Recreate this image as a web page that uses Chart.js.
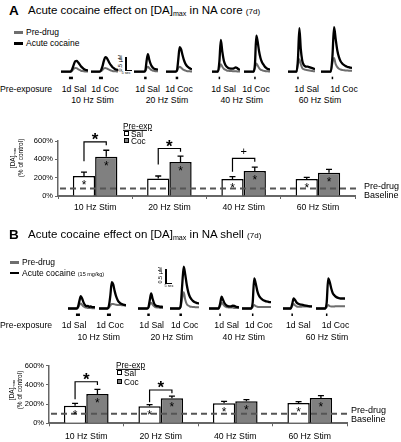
<!DOCTYPE html>
<html><head><meta charset="utf-8">
<script src="https://cdn.jsdelivr.net/npm/chart.js@4.4.1/dist/chart.umd.min.js"></script>
<style>
body{margin:0;width:401px;height:442px;position:relative;background:#fff;font-family:"Liberation Sans",Arial,sans-serif;overflow:hidden}
.t{position:absolute;white-space:nowrap;color:#000;line-height:1}
.c{transform:translate(-50%,-50%)}
.l{transform:translate(0,-50%)}
.r{transform:translate(-50%,-50%) rotate(-90deg)}
.sub{font-size:0.62em;position:relative;top:0.35em}
canvas{position:absolute}
.ln{position:absolute;height:2.5px}
.box{position:absolute;width:5px;height:5px;border:1px solid #000;box-sizing:border-box}
</style></head><body>
<script>
// ---------------- DATA ----------------
const stimLabels = ['10 Hz Stim', '20 Hz Stim', '40 Hz Stim', '60 Hz Stim'];
const preExposure = ['1d Sal', '1d Coc'];
const yTicks = [0, 200, 400, 600];
const traceTime = [0,1,2,3,4,5,6,7,8,9,10,11,12,13,14,15,16,17,18,19];

// Bar values (% of control), panel A (NA core)
const coreSal = [218, 192, 186, 186];
const coreSalErr = [43, 26, 25, 17];
const coreCoc = [427, 370, 272, 254];
const coreCocErr = [72, 65, 44, 36];
const coreBaseline = 82;
const coreSalStar = [true, false, true, true];
const coreCocStar = [true, true, true, true];
const coreSig = ['*', '*', '+', ''];
const coreBracketTop = [590, 518, 410, null];
const coreBracketLeft = [380, 345, 264, null];
const coreBracketRight = [554, 482, 373, null];

// Bar values (% of control), panel B (NA shell)
const shellSal = [183, 177, 208, 211];
const shellSalErr = [25, 17, 21, 14];
const shellCoc = [305, 260, 229, 264];
const shellCocErr = [49, 24, 17, 24];
const shellBaseline = 100;
const shellSalStar = [true, true, true, true];
const shellCocStar = [true, true, true, true];
const shellSig = ['*', '*', '', ''];
const shellBracketTop = [433, 347, null, null];
const shellBracketLeft = [250, 219, null, null];
const shellBracketRight = [399, 312, null, null];

// Traces (µM above baseline); order: 10Sal,10Coc,20Sal,20Coc,40Sal,40Coc,60Sal,60Coc
const coreTraceCocaine = [
  [0,0,0,0,0,0,0,0.02,0.12,0.28,0.42,0.43,0.38,0.30,0.22,0.16,0.11,0.08,0.06,0.05],
  [0,0,0,0,0,0,0,0.05,0.20,0.42,0.58,0.56,0.46,0.35,0.26,0.19,0.14,0.10,0.08,0.07],
  [0,0,0,0,0,0,0,0,0,0.05,0.45,0.70,0.50,0.33,0.22,0.16,0.12,0.10,0.09,0.08],
  [0,0,0,0,0,0,0,0,0.05,0.50,0.98,0.90,0.68,0.48,0.34,0.25,0.19,0.15,0.12,0.10],
  [0,0,0,0,0,0.40,1.27,0.80,0.45,0.28,0.20,0.15,0.13,0.12,0.12,0.14,0.17,0.15,0.10,0.08],
  [0,0,0,0,0,0,0,0,0.30,1.44,1.20,0.82,0.56,0.40,0.30,0.22,0.16,0.12,0.10,0.08],
  [0,0,0,0,0,0,0,0.50,1.74,0.90,0.45,0.28,0.22,0.20,0.20,0.18,0.16,0.14,0.12,0.10],
  [0,0,0,0,0,0,0,0.60,1.78,1.30,0.85,0.58,0.42,0.33,0.27,0.23,0.20,0.18,0.16,0.15]
];
const coreTracePre = [
  [0,0,0,0,0,0,0,0,0.05,0.12,0.15,0.14,0.10,0.07,0.04,0.03,0.02,0.01,0.01,0],
  [0,0,0,0,0,0,0,0.02,0.07,0.13,0.15,0.13,0.10,0.07,0.05,0.03,0.02,0.02,0.01,0.01],
  [0,0,0,0,0,0,0,0,0,0.03,0.15,0.20,0.15,0.10,0.06,0.04,0.03,0.02,0.02,0.01],
  [0,0,0,0,0,0,0,0,0.03,0.15,0.20,0.16,0.11,0.07,0.05,0.03,0.02,0.02,0.01,0.01],
  [0,0,0,0,0,0.15,0.30,0.20,0.12,0.08,0.05,0.04,0.03,0.03,0.02,0.02,0.02,0.01,0.01,0.01],
  [0,0,0,0,0,0,0,0,0.15,0.33,0.25,0.15,0.09,0.06,0.04,0.03,0.02,0.02,0.01,0.01],
  [0,0,0,0,0,0,0,0.30,0.50,0.30,0.15,0.10,0.08,0.07,0.06,0.05,0.04,0.03,0.02,0.02],
  [0,0,0,0,0,0,0,0.35,0.55,0.30,0.18,0.12,0.09,0.07,0.06,0.05,0.05,0.04,0.04,0.04]
];
const coreStimOnset = [7, 7, 9, 8, 5, 8, 7, 7];

const shellTraceCocaine = [
  [0,0,0,0,0,0,0,0.05,0.25,0.42,0.33,0.20,0.12,0.08,0.09,0.06,0.07,0.05,0.05,0.04],
  [0,0,0,0,0,0,0,0.10,0.45,0.90,0.82,0.60,0.42,0.30,0.22,0.18,0.15,0.13,0.12,0.11],
  [0,0,0,0,0,0,0,0,0.05,0.30,0.51,0.35,0.20,0.12,0.09,0.08,0.07,0.06,0.06,0.05],
  [0,0,0,0,0,0,0,0.10,0.80,1.42,1.15,0.80,0.55,0.40,0.32,0.26,0.22,0.20,0.18,0.17],
  [0,0,0,0,0,0,0,0.15,0.40,0.28,0.17,0.11,0.08,0.07,0.07,0.10,0.09,0.06,0.05,0.04],
  [0,0,0,0,0,0,0,0.20,1.02,0.85,0.60,0.45,0.37,0.32,0.28,0.26,0.24,0.23,0.22,0.22],
  [0,0,0,0,0,0,0.15,0.34,0.28,0.20,0.16,0.14,0.13,0.12,0.11,0.10,0.09,0.08,0.07,0.07],
  [0,0,0,0,0,0,0,0.20,1.02,0.90,0.68,0.52,0.45,0.40,0.37,0.35,0.34,0.34,0.34,0.34]
];
const shellTracePre = [
  [0,0,0,0,0,0,0,0.03,0.12,0.17,0.12,0.07,0.04,0.03,0.02,0.02,0.02,0.01,0.01,0.01],
  [0,0,0,0,0,0,0,0.03,0.10,0.15,0.15,0.14,0.13,0.12,0.12,0.12,0.11,0.11,0.10,0.10],
  [0,0,0,0,0,0,0,0,0.03,0.14,0.20,0.14,0.08,0.05,0.04,0.03,0.03,0.02,0.02,0.02],
  [0,0,0,0,0,0,0,0.05,0.35,0.55,0.30,0.15,0.10,0.07,0.06,0.05,0.05,0.04,0.04,0.04],
  [0,0,0,0,0,0,0,0.08,0.20,0.14,0.08,0.05,0.04,0.03,0.03,0.03,0.02,0.02,0.02,0.02],
  [0,0,0,0,0,0,0,0.05,0.12,0.08,0.06,0.05,0.05,0.05,0.05,0.05,0.05,0.05,0.05,0.05],
  [0,0,0,0,0,0,0.08,0.15,0.10,0.07,0.06,0.06,0.06,0.07,0.07,0.07,0.07,0.07,0.07,0.07],
  [0,0,0,0,0,0,0,0.05,0.12,0.08,0.07,0.07,0.07,0.08,0.08,0.08,0.08,0.08,0.08,0.08]
];
const shellStimOnset = [7, 7, 8, 7, 7, 7, 6, 7];

// ---------------- LAYOUT ----------------
const coreTraceX = [[61,88],[91,118],[134,158],[166,192],[212,240],[244,270],[288,315],[321,352]];
const shellTraceX = [[68,95],[99,126],[138,163],[170,199],[209,239],[242,271],[283,312],[316,345]];
const stimMarkW = [4,4,2.5,2.5,1.5,1.5,1.5,1.5];

Chart.defaults.font.family = '"Liberation Sans", Arial, sans-serif';
Chart.defaults.color = '#000';

function makeCanvas(left, top, w, h){
  const c = document.createElement('canvas');
  c.width = w; c.height = h;
  c.style.left = left + 'px'; c.style.top = top + 'px';
  document.body.appendChild(c);
  return c;
}

function drawTraces(xs, top, h, ymin, ymax, pre, drug, stim){
  xs.forEach((r, i) => {
    const c = makeCanvas(r[0], top, r[1] - r[0], h);
    new Chart(c, {
      type: 'line',
      data: { labels: traceTime, datasets: [
        { data: drug[i], borderColor: '#000', borderWidth: 2.3, pointRadius: 0, cubicInterpolationMode: 'monotone', order: 0 },
        { data: pre[i], borderColor: '#6e6e6e', borderWidth: 2, pointRadius: 0, cubicInterpolationMode: 'monotone', order: 1 }
      ]},
      options: {
        responsive: false, animation: false, events: [],
        layout: { padding: 0 },
        plugins: { legend: { display: false }, tooltip: { enabled: false } },
        scales: { x: { display: false }, y: { display: false, min: ymin, max: ymax } }
      },
      plugins: [{ id: 'stim', afterDraw(ch){
        const x = ch.scales.x.getPixelForValue(stim[i]);
        const y = ch.scales.y.getPixelForValue(0);
        ch.ctx.fillStyle = '#000';
        ch.ctx.fillRect(x - stimMarkW[i] / 2, y + 5, stimMarkW[i], 2.5);
      }}]
    });
  });
}

function annPlugin(o){
  return { id: 'ann', afterDatasetsDraw(chart){
    const ctx = chart.ctx, ys = chart.scales.y, ca = chart.chartArea;
    const m0 = chart.getDatasetMeta(0), m1 = chart.getDatasetMeta(1);
    ctx.save();
    // error bars
    [[m0, o.sal, o.salErr], [m1, o.coc, o.cocErr]].forEach(([m, vals, errs]) => {
      m.data.forEach((bar, i) => {
        const yt = ys.getPixelForValue(vals[i] + errs[i]);
        ctx.strokeStyle = '#000'; ctx.lineWidth = 1.3;
        ctx.beginPath();
        ctx.moveTo(bar.x, bar.y); ctx.lineTo(bar.x, yt);
        ctx.moveTo(bar.x - 3, yt); ctx.lineTo(bar.x + 3, yt);
        ctx.stroke();
      });
    });
    // baseline
    const yb = ys.getPixelForValue(o.baseline);
    ctx.setLineDash([6, 4]); ctx.lineWidth = 2; ctx.strokeStyle = '#555';
    ctx.beginPath(); ctx.moveTo(ca.left + 2, yb); ctx.lineTo(ca.right + 3, yb); ctx.stroke();
    ctx.setLineDash([]);
    // stars inside bars
    ctx.fillStyle = '#000'; ctx.textAlign = 'center'; ctx.textBaseline = 'alphabetic';
    ctx.font = '12px "Liberation Sans", Arial';
    [[m0, o.salStar], [m1, o.cocStar]].forEach(([m, st]) => {
      m.data.forEach((bar, i) => { if (st[i]) ctx.fillText('*', bar.x, bar.y + 13); });
    });
    // brackets
    o.sig.forEach((s, i) => {
      if (!s) return;
      const xl = m0.data[i].x, xr = m1.data[i].x;
      const yt = ys.getPixelForValue(o.bTop[i]);
      ctx.strokeStyle = '#000'; ctx.lineWidth = 1.2;
      ctx.beginPath();
      ctx.moveTo(xl, ys.getPixelForValue(o.bLeft[i]));
      ctx.lineTo(xl, yt); ctx.lineTo(xr, yt);
      ctx.lineTo(xr, ys.getPixelForValue(o.bRight[i]));
      ctx.stroke();
      if (s === '*') { ctx.font = 'bold 17px "Liberation Sans", Arial'; ctx.fillText('*', (xl + xr) / 2, yt + 3.5); }
      else { ctx.font = '11px "Liberation Sans", Arial'; ctx.fillText(s, (xl + xr) / 2, yt - 3); }
    });
    ctx.restore();
  }};
}

function drawBars(o){
  const c = makeCanvas(0, o.top, 401, o.h);
  new Chart(c, {
    type: 'bar',
    data: { labels: stimLabels, datasets: [
      { label: 'Sal', data: o.sal, backgroundColor: '#fff', borderColor: '#000', borderWidth: 1.5, categoryPercentage: 0.6, barPercentage: 1 },
      { label: 'Coc', data: o.coc, backgroundColor: '#808080', borderColor: '#000', borderWidth: 1.5, categoryPercentage: 0.6, barPercentage: 1 }
    ]},
    options: {
      responsive: false, animation: false, events: [],
      layout: { padding: { top: o.padTop, right: o.padRight, left: 0, bottom: 0 } },
      plugins: { legend: { display: false }, tooltip: { enabled: false } },
      scales: {
        x: { grid: { drawOnChartArea: false, tickLength: 3, color: '#666', lineWidth: 1 },
             border: { color: '#666', width: 2 },
             ticks: { font: { size: 8.7 }, padding: o.xPad, maxRotation: 0 },
             afterFit(s){ s.height = o.xh; } },
        y: { min: 0, max: 600,
             grid: { drawOnChartArea: false, tickLength: 3, color: '#666', lineWidth: 1 },
             border: { color: '#666', width: 1.5 },
             ticks: { font: { size: 7.5 }, padding: 2, callback: v => v + '%' },
             afterBuildTicks(s){ s.ticks = yTicks.map(v => ({ value: v })); },
             afterFit(s){ s.width = o.yw; } }
      }
    },
    plugins: [annPlugin(o)]
  });
}

function txt(html, x, y, size, cls, extra){
  const d = document.createElement('div');
  d.className = 't ' + cls;
  d.style.left = x + 'px'; d.style.top = y + 'px'; d.style.fontSize = size + 'px';
  if (extra) d.style.cssText += extra;
  d.innerHTML = html;
  document.body.appendChild(d);
  return d;
}
function rect(x, y, w, h, color, cls){
  const d = document.createElement('div');
  d.className = cls || 'ln';
  d.style.cssText += `left:${x}px;top:${y}px;width:${w}px;height:${h}px;background:${color}`;
  document.body.appendChild(d);
}

// ---------------- PANEL A ----------------
txt('A', 9, 11, 13.5, 'l', 'font-weight:bold');
txt('Acute cocaine effect on [DA]<span class="sub">max</span> in NA core <span style="font-size:8px">(7d)</span>', 28, 11, 11.5, 'l');
rect(14, 31, 9, 2.5, '#6e6e6e');
txt('Pre-drug', 26, 32, 8.5, 'l');
rect(14, 42, 9, 2.5, '#000');
txt('Acute cocaine', 26, 43, 8.5, 'l');
rect(125, 57, 1.5, 13.5, '#000');
rect(125, 69.5, 7, 1.5, '#000');
txt('0.5 µM', 121, 63, 5.5, 'r');
txt('5 sec', 126, 73.5, 3.8, 'c');

drawTraces(coreTraceX, 20, 62, -0.412, 2.068, coreTracePre, coreTraceCocaine, coreStimOnset);

txt('Pre-exposure', 0, 89, 8.7, 'l');
[74, 105, 147.5, 179, 223.5, 256, 306.7, 344].forEach((x, i) => txt(preExposure[i % 2], x, 89, 8.7, 'c'));
[92.5, 167, 241.7, 320].forEach((x, i) => txt(stimLabels[i], x, 99.5, 8.7, 'c'));

drawBars({ top: 115, h: 100, padTop: 26, padRight: 46, yw: 58, xh: 19, xPad: 3,
  sal: coreSal, salErr: coreSalErr, coc: coreCoc, cocErr: coreCocErr, baseline: coreBaseline,
  salStar: coreSalStar, cocStar: coreCocStar, sig: coreSig,
  bTop: coreBracketTop, bLeft: coreBracketLeft, bRight: coreBracketRight });

txt('<span style="text-decoration:underline">Pre-exp</span>', 123, 126, 8.3, 'l');
rect(124, 131, 5, 5, '#fff', 'box');
txt('Sal', 131, 133.5, 8.3, 'l');
rect(124, 138, 5, 5, '#808080', 'box');
txt('Coc', 131, 140.5, 8.3, 'l');
txt('[DA]<span class="sub">max</span>', 13, 158, 6.5, 'r');
txt('(% of control)', 21, 158, 6.5, 'r');
txt('Pre-drug', 364, 186, 9, 'l');
txt('Baseline', 364, 195, 9, 'l');

// ---------------- PANEL B ----------------
txt('B', 9, 235, 13.5, 'l', 'font-weight:bold');
txt('Acute cocaine effect on [DA]<span class="sub">max</span> in NA shell <span style="font-size:8px">(7d)</span>', 28, 235, 11.5, 'l');
rect(10, 261, 9, 2.5, '#6e6e6e');
txt('Pre-drug', 22, 262.3, 8.5, 'l');
rect(10, 271.5, 9, 2.5, '#000');
txt('Acute cocaine <span style="font-size:5.5px">(15 mg/kg)</span>', 22, 272.7, 8.5, 'l');
rect(165, 268.5, 1.5, 15, '#000');
rect(165, 282.5, 7, 1.5, '#000');
txt('0.5 µM', 160.5, 275, 5.5, 'r');
txt('5 sec', 169, 287, 3.8, 'c');

drawTraces(shellTraceX, 255, 65, -0.391, 1.82, shellTracePre, shellTraceCocaine, shellStimOnset);

txt('Pre-exposure', 0, 325, 8.7, 'l');
[74, 110, 151.7, 184.7, 226.7, 258.8, 298.3, 335.5].forEach((x, i) => txt(preExposure[i % 2], x, 325, 8.7, 'c'));
[98.7, 171.7, 243.8, 327].forEach((x, i) => txt(stimLabels[i], x, 336.7, 8.7, 'c'));

drawBars({ top: 345, h: 97, padTop: 20.7, padRight: 54, yw: 49, xh: 18.7, xPad: 5,
  sal: shellSal, salErr: shellSalErr, coc: shellCoc, cocErr: shellCocErr, baseline: shellBaseline,
  salStar: shellSalStar, cocStar: shellCocStar, sig: shellSig,
  bTop: shellBracketTop, bLeft: shellBracketLeft, bRight: shellBracketRight });

txt('<span style="text-decoration:underline">Pre-exp</span>', 116, 365, 8.3, 'l');
rect(117, 370, 5, 5, '#fff', 'box');
txt('Sal', 124, 372.5, 8.3, 'l');
rect(117, 379, 5, 5, '#808080', 'box');
txt('Coc', 124, 381.5, 8.3, 'l');
txt('[DA]<span class="sub">max</span>', 12, 390, 6.5, 'r');
txt('(% of control)', 20, 390, 6.5, 'r');
txt('Pre-drug', 351, 410, 9, 'l');
txt('Baseline', 351, 419, 9, 'l');
</script>
</body></html>
